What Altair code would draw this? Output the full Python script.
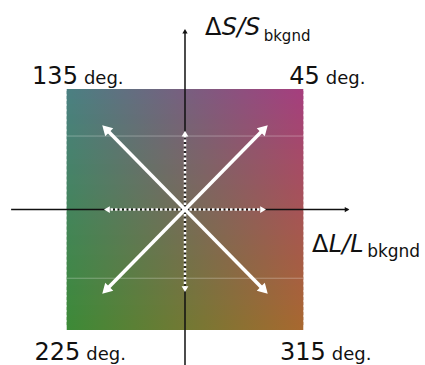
import altair as alt
import pandas as pd

# Corner colours of the cone-contrast plane (ΔL/L on x, ΔS/S on y)
corner_top_left = "#4a8082"
corner_top_right = "#a63e7e"
corner_bottom_left = "#3c8a36"
corner_bottom_right = "#a8682f"

# Intermediate (45°) modulation directions: arrow tips in contrast units
diag_angle = [45, 135, 225, 315]
diag_dl = [0.67, -0.67, -0.67, 0.67]
diag_ds = [0.67, 0.67, -0.67, -0.67]

# Cardinal modulation directions (dotted arrows)
card_angle = [0, 90, 180, 270]
card_dl = [0.66, 0.0, -0.66, 0.0]
card_ds = [0.0, 0.63, 0.0, -0.66]

# Corner angle labels
label_num = ["135", "45", "225", "315"]
label_unit = ["deg.", "deg.", "deg.", "deg."]
label_dl = [-0.88, 1.165, -0.86, 1.215]
label_ds = [1.04, 1.04, -1.25, -1.25]

# Faint reference lines across the plane
ref_ds = [0.61, -0.57]

W, H = 425, 365
xs = alt.Scale(domain=[-1.564, 2.029], nice=False, zero=False)
ys = alt.Scale(domain=[-1.290, 1.739], nice=False, zero=False)


def X(field, **kw):
    return alt.X(field, type="quantitative", scale=xs, axis=None, **kw)


def Y(field, **kw):
    return alt.Y(field, type="quantitative", scale=ys, axis=None, **kw)


def mix(c0, c1, t):
    a = [int(c0[i:i + 2], 16) for i in (1, 3, 5)]
    b = [int(c1[i:i + 2], 16) for i in (1, 3, 5)]
    return "#" + "".join(f"{round(p + (q - p) * t):02x}" for p, q in zip(a, b))


# Colour plane: horizontal strips, each a left-to-right linear gradient
layers = []
n_strips = 48
step = 2.0 / n_strips
for i in range(n_strips):
    lo = -1 + i * step
    hi = min(1.0, lo + step * 1.6)
    t = (lo + step / 2 + 1) / 2
    left = mix(corner_bottom_left, corner_top_left, t)
    right = mix(corner_bottom_right, corner_top_right, t)
    grad = {
        "gradient": "linear",
        "x1": 0, "x2": 1, "y1": 0, "y2": 0,
        "stops": [{"offset": 0, "color": left}, {"offset": 1, "color": right}],
    }
    strip = pd.DataFrame({"l0": [-1.0], "l1": [1.0], "s0": [lo], "s1": [hi]})
    layers.append(
        alt.Chart(strip).mark_rect(color=grad, strokeWidth=0).encode(
            x=X("l0"), x2="l1", y=Y("s0"), y2="s1"
        )
    )

refs = pd.DataFrame({"s": ref_ds, "l0": -1.0, "l1": 1.0})
layers.append(
    alt.Chart(refs).mark_rule(color="white", opacity=0.3, strokeWidth=1).encode(
        x=X("l0"), x2="l1", y=Y("s"), y2="s"
    )
)

# Black axes
axes = pd.DataFrame({"l0": [-1.47, 0.0], "l1": [1.38, 0.0],
                     "s0": [0.0, -1.29], "s1": [0.0, 1.48]})
layers.append(
    alt.Chart(axes).mark_rule(color="#111111", strokeWidth=1.5).encode(
        x=X("l0"), x2="l1", y=Y("s0"), y2="s1"
    )
)
axis_heads = pd.DataFrame({"l": [1.37, 0.0], "s": [0.0, 1.48], "rot": [90, 0]})
layers.append(
    alt.Chart(axis_heads).mark_point(shape="triangle-up", filled=True, size=28,
                                     color="#111111", opacity=1).encode(
        x=X("l"), y=Y("s"), angle=alt.Angle("rot:Q", scale=None)
    )
)

# Dotted cardinal arrows
card = pd.DataFrame({"a": card_angle, "dl": card_dl, "ds": card_ds})
card["rot"] = (90 - card["a"]) % 360
card["o"] = 0.0
layers.append(
    alt.Chart(card).mark_rule(color="white", strokeWidth=2.5, strokeDash=[2.5, 2]).encode(
        x=X("o"), x2="dl", y=Y("o"), y2="ds"
    )
)
layers.append(
    alt.Chart(card).mark_point(shape="triangle-up", filled=True, size=45,
                               color="white", opacity=1).encode(
        x=X("dl"), y=Y("ds"), angle=alt.Angle("rot:Q", scale=None)
    )
)

# Solid diagonal arrows
diag = pd.DataFrame({"a": diag_angle, "dl": diag_dl, "ds": diag_ds})
diag["rot"] = (90 - diag["a"]) % 360
diag["o"] = 0.0
layers.append(
    alt.Chart(diag).mark_rule(color="white", strokeWidth=3.5).encode(
        x=X("o"), x2="dl", y=Y("o"), y2="ds"
    )
)
layers.append(
    alt.Chart(diag).mark_point(shape="triangle-up", filled=True, size=130,
                               color="white", opacity=1).encode(
        x=X("dl"), y=Y("ds"), angle=alt.Angle("rot:Q", scale=None)
    )
)

# Corner labels
labels = pd.DataFrame({"n": label_num, "u": label_unit, "dl": label_dl, "ds": label_ds})
font = "DejaVu Sans"
layers.append(
    alt.Chart(labels).mark_text(font=font, fontSize=24, align="right", dx=-3,
                                baseline="alphabetic", color="#111111").encode(
        x=X("dl"), y=Y("ds"), text="n:N"
    )
)
layers.append(
    alt.Chart(labels).mark_text(font=font, fontSize=18, align="left", dx=3,
                                baseline="alphabetic", color="#111111").encode(
        x=X("dl"), y=Y("ds"), text="u:N"
    )
)

# Axis titles: ΔS/S_bkgnd and ΔL/L_bkgnd
title_parts = pd.DataFrame({
    "t": ["Δ", "S/S", "bkgnd", "Δ", "L/L", "bkgnd"],
    "dl": [0.169, 0.31, 0.665, 1.074, 1.215, 1.54],
    "ds": [1.45, 1.45, 1.40, -0.35, -0.35, -0.39],
    "size": [24, 24, 15, 24, 24, 17],
    "style": ["normal", "italic", "normal", "normal", "italic", "normal"],
})
for style in ["normal", "italic"]:
    for size in sorted(title_parts["size"].unique()):
        part = title_parts[(title_parts["style"] == style) & (title_parts["size"] == size)]
        if part.empty:
            continue
        layers.append(
            alt.Chart(part).mark_text(font=font, fontSize=int(size), fontStyle=style,
                                      align="left", baseline="alphabetic",
                                      color="#111111").encode(
                x=X("dl"), y=Y("ds"), text="t:N"
            )
        )

chart = alt.layer(*layers).properties(
    width=W, height=H,
    autosize=alt.AutoSizeParams(type="none"),
    padding=0,
    background="white",
).configure_view(stroke=None)

chart.save("out.html", embed_options={"renderer": "svg", "actions": False})
